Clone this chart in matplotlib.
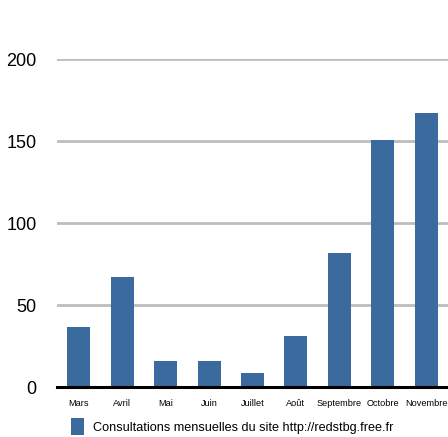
import matplotlib
matplotlib.use('Agg')
import matplotlib.pyplot as plt
from matplotlib.patches import Patch

months = ['Mars', 'Avril', 'Mai', 'Juin', 'Juillet', 'Août',
          'Septembre', 'Octobre', 'Novembre']
visits = [37, 67, 16, 16, 9, 31, 82, 151, 167]
yticks = [0, 50, 100, 150, 200]

bar_color = '#3b6a9e'
narrow = ['Liberation Sans Narrow', 'Liberation Sans', 'DejaVu Sans']

fig = plt.figure(figsize=(4.48, 4.37), dpi=100)
ax = fig.add_axes([57 / 448, 1 - 387.3 / 437, 1 - 57 / 448, (387.3 - 59.3) / 437])

x = list(range(len(months)))
ax.bar(x, visits, width=0.53, color=bar_color, zorder=3)

ax.set_xlim(-0.5, len(months) - 0.5)
ax.set_ylim(0, 200)
ax.set_yticks(yticks)
ax.set_yticklabels([str(v) for v in yticks], family='Liberation Sans', fontsize=13)
ax.set_xticks(x)
ax.set_xticklabels(months, family=narrow, fontsize=6.6)
ax.tick_params(axis='both', length=0)
ax.tick_params(axis='y', pad=14.5)
ax.tick_params(axis='x', pad=8.5)

for v in yticks[1:]:
    ax.axhline(v, color='#bdbdbd', linewidth=2, zorder=1)

for s in ('top', 'right', 'left'):
    ax.spines[s].set_visible(False)
ax.spines['bottom'].set_linewidth(2.2)
ax.spines['bottom'].set_color('black')
ax.spines['bottom'].set_zorder(4)

handle = Patch(facecolor=bar_color, edgecolor='none')
fig.legend([handle], ['Consultations mensuelles du site http://redstbg.free.fr'],
           loc='lower left', bbox_to_anchor=(66 / 448, -0.008), frameon=False,
           prop={'family': narrow, 'size': 9.1}, handlelength=1.05,
           handleheight=1.8, handletextpad=0.7, borderaxespad=0)

fig.savefig('out.png', dpi=100)
